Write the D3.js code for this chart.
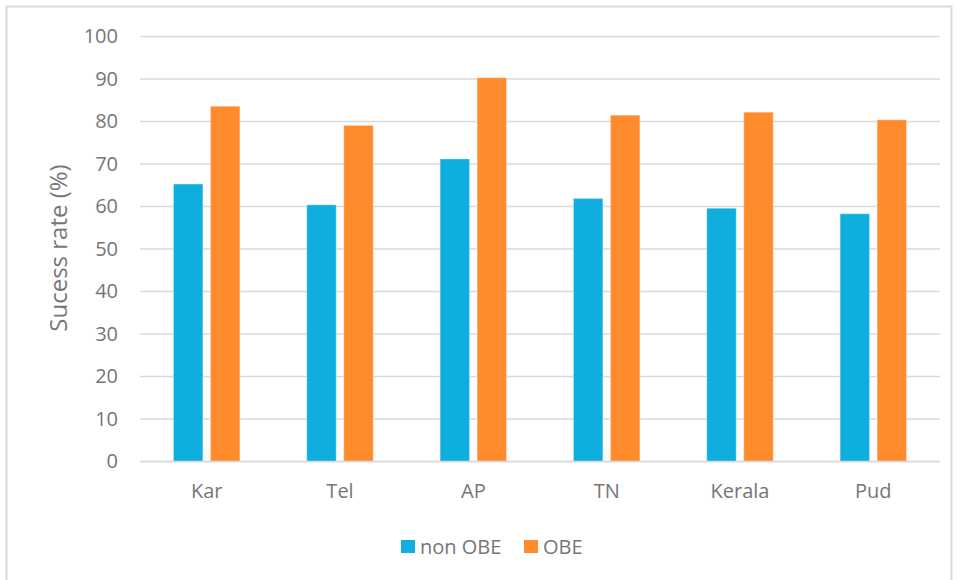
<!DOCTYPE html>
<html>
<head>
<meta charset="utf-8">
<script src="https://cdn.jsdelivr.net/npm/d3@7"></script>
<style>
  body { margin: 0; background: #fff; }
  text { font-family: "Open Sans", "Noto Sans", sans-serif; fill: #767676; }
</style>
</head>
<body>
<div id="chart"></div>
<script>
var categories = ["Kar", "Tel", "AP", "TN", "Kerala", "Pud"];
var seriesNames = ["non OBE", "OBE"];
var nonObe = [65.3, 60.4, 71.2, 61.9, 59.6, 58.3];
var obe = [83.6, 79.1, 90.3, 81.5, 82.2, 80.4];
var yTicks = [0, 10, 20, 30, 40, 50, 60, 70, 80, 90, 100];
var colors = ["#0eaedf", "#ff8b2c"];

var width = 958, height = 580;
var margin = { top: 36.5, right: 18, bottom: 118.5, left: 140 };
var innerW = width - margin.left - margin.right;
var innerH = height - margin.top - margin.bottom;

var svg = d3.select("#chart")
  .append("svg")
  .attr("width", width)
  .attr("height", height);

// outer frame
svg.append("rect")
  .attr("x", 6.5).attr("y", 6.5)
  .attr("width", 945).attr("height", 575)
  .attr("fill", "none")
  .attr("stroke", "#d9d9d9")
  .attr("stroke-width", 2);

var g = svg.append("g")
  .attr("transform", "translate(" + margin.left + "," + margin.top + ")");

var x = d3.scaleBand().domain(categories).range([0, innerW]);
var y = d3.scaleLinear().domain([0, 100]).range([innerH, 0]);

// gridlines
g.selectAll(".grid")
  .data(yTicks)
  .enter()
  .append("line")
  .attr("x1", 0).attr("x2", innerW)
  .attr("y1", function (d) { return y(d); })
  .attr("y2", function (d) { return y(d); })
  .style("stroke", "#d9d9d9")
  .style("stroke-width", 1.5);

// y tick labels
var yAxis = g.append("g")
  .call(d3.axisLeft(y).tickValues(yTicks).tickSize(0).tickPadding(22));
yAxis.select(".domain").remove();
yAxis.selectAll("text")
  .style("font-size", "20px")
  .attr("fill", "#767676");

// bars
var barW = 29.5, gap = 7.5;
var rows = categories.map(function (c, i) { return { cat: c, vals: [nonObe[i], obe[i]] }; });

var groups = g.selectAll(".cat")
  .data(rows)
  .enter()
  .append("g")
  .attr("transform", function (d) { return "translate(" + (x(d.cat) + x.bandwidth() / 2) + ",0)"; });

groups.selectAll("rect")
  .data(function (d) { return d.vals; })
  .enter()
  .append("rect")
  .attr("x", function (d, i) { return i === 0 ? -(barW + gap / 2) : gap / 2; })
  .attr("y", function (d) { return y(d); })
  .attr("width", barW)
  .attr("height", function (d) { return innerH - y(d); })
  .style("fill", function (d, i) { return colors[i]; })
  .style("stroke", "#fff")
  .style("stroke-opacity", 0.4)
  .style("stroke-width", 1);

// x axis line
g.append("line")
  .attr("x1", 0).attr("x2", innerW)
  .attr("y1", innerH).attr("y2", innerH)
  .style("stroke", "#d9d9d9")
  .style("stroke-width", 1.5);

// x labels
var xAxis = g.append("g")
  .attr("transform", "translate(0," + innerH + ")")
  .call(d3.axisBottom(x).tickSize(0).tickPadding(22));
xAxis.select(".domain").remove();
xAxis.selectAll("text")
  .style("font-size", "20px")
  .attr("fill", "#767676");

// y axis title
svg.append("text")
  .attr("transform", "translate(67,248) rotate(-90)")
  .attr("text-anchor", "middle")
  .style("font-size", "24px")
  .text("Sucess rate (%)");

// legend
var legend = svg.append("g").attr("transform", "translate(401,540)");
var legendX = [0, 123];
seriesNames.forEach(function (name, i) {
  legend.append("rect")
    .attr("x", legendX[i]).attr("y", 0)
    .attr("width", 14).attr("height", 13)
    .style("fill", colors[i]);
  legend.append("text")
    .attr("x", legendX[i] + 19).attr("y", 14)
    .style("font-size", "20px")
    .text(name);
});
</script>
</body>
</html>
